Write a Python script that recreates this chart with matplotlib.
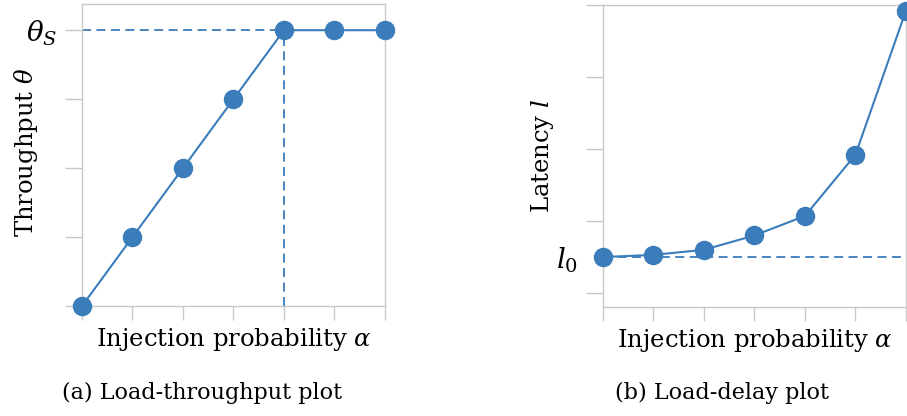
import matplotlib
matplotlib.use("Agg")
import matplotlib.pyplot as plt

# injection probability steps (unlabeled on the axis)
alpha_steps = [0, 1, 2, 3, 4, 5, 6]

# throughput grows linearly then saturates at theta_S
throughput = [0, 1, 2, 3, 4, 4, 4]
theta_s = 4
alpha_sat = 4

# latency stays near l_0 then blows up
latency = [1.5, 1.53, 1.6, 1.8, 2.07, 2.92, 4.92]
l_zero = 1.5

blue = "#3a7dba"
grey = "#c8c8c8"

plt.rcParams["font.family"] = "DejaVu Serif"
plt.rcParams["mathtext.fontset"] = "dejavuserif"

fig = plt.figure(figsize=(9.07, 4.16), dpi=100)
ax1 = fig.add_axes([0.0904, 0.2644, 0.334, 0.726])
ax2 = fig.add_axes([0.6648, 0.262, 0.334, 0.726])


def style_axes(ax):
    for sp in ax.spines.values():
        sp.set_color(grey)
        sp.set_linewidth(1.0)
    ax.tick_params(axis="both", colors=grey, width=1.0, labelcolor="black")
    ax.tick_params(axis="y", length=12, labelsize=20, pad=6)
    ax.tick_params(axis="x", length=10, labelbottom=False)
    ax.set_xticks(alpha_steps)
    ax.set_xlim(alpha_steps[0], alpha_steps[-1])


# (a) load vs throughput
style_axes(ax1)
ax1.plot([alpha_steps[0], alpha_sat], [theta_s, theta_s], color=blue, lw=1.3,
         ls=(0, (5, 3)))
ax1.plot([alpha_sat, alpha_sat], [0, theta_s], color=blue, lw=1.3, ls=(0, (5, 3)))
ax1.plot(alpha_steps, throughput, color=blue, lw=1.5, marker="o", ms=13,
         clip_on=False, zorder=5)
ax1.set_ylim(0, 4.38)
ax1.set_yticks([0, 1, 2, 3, 4])
ax1.set_yticklabels(["", "", "", "", r"$\theta_S$"])
ax1.set_xlabel(r"Injection probability $\alpha$", fontsize=17.5)
ax1.xaxis.set_label_coords(0.5, -0.065)
ax1.set_ylabel(r"Throughput $\theta$", fontsize=17.5)
ax1.yaxis.set_label_coords(-0.14, 0.51)

# (b) load vs latency
style_axes(ax2)
ax2.axhline(l_zero, color=blue, lw=1.3, ls=(0, (5, 3)))
ax2.plot(alpha_steps, latency, color=blue, lw=1.5, marker="o", ms=13,
         clip_on=False, zorder=5)
ax2.set_ylim(0.806, 5)
ax2.set_yticks([1, 1.5, 2, 3, 4, 5])
ax2.set_yticklabels(["", r"$l_0$", "", "", "", ""])
for t in ax2.yaxis.get_major_ticks():
    if t.get_loc() == l_zero:
        t.tick1line.set_visible(False)
ax2.set_xlabel(r"Injection probability $\alpha$", fontsize=17.5)
ax2.xaxis.set_label_coords(0.5, -0.065)
ax2.set_ylabel(r"Latency $l$", fontsize=17.5)
ax2.yaxis.set_label_coords(-0.155, 0.5)

fig.text(0.223, 0.055, "(a) Load-throughput plot", fontsize=16, ha="center", va="center")
fig.text(0.796, 0.055, "(b) Load-delay plot", fontsize=16, ha="center", va="center")

fig.savefig("out.png", dpi=100)
